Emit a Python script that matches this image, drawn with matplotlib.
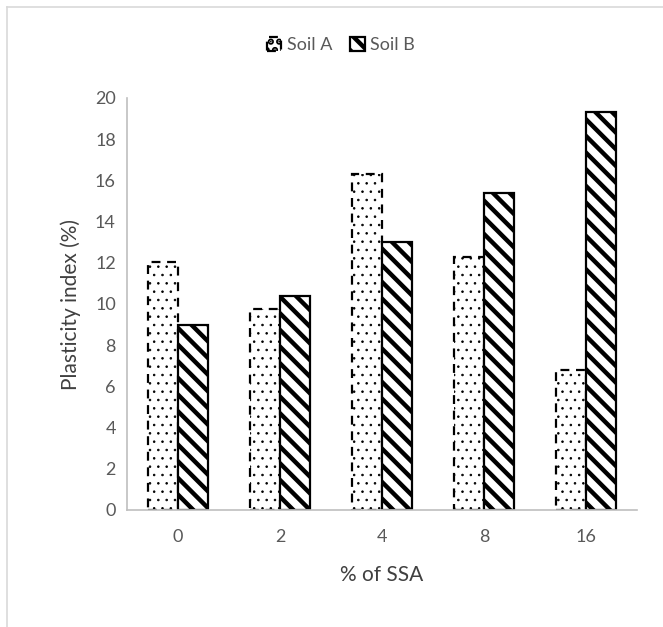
import matplotlib
matplotlib.use("Agg")
import matplotlib.pyplot as plt
from matplotlib.lines import Line2D
import numpy as np

# veriler
ssa = ["0", "2", "4", "8", "16"]
soil_a = [12.05, 9.75, 16.3, 12.3, 6.8]
soil_b = [9.0, 10.4, 13.0, 15.4, 19.3]
yticks = [0, 2, 4, 6, 8, 10, 12, 14, 16, 18, 20]

plt.rcParams["font.family"] = ["Lato", "DejaVu Sans"]

fig = plt.figure(figsize=(6.63, 6.27), dpi=100)
ax = fig.add_axes([127 / 663, 1 - 510 / 627, 510 / 663, 412 / 627])

x = np.arange(len(ssa))
w = 0.29

plt.rcParams["hatch.linewidth"] = 0.6
ax.bar(x - w / 2, soil_a, w, facecolor="white", edgecolor="black",
       linestyle=(0, (4, 3)), linewidth=1.6, hatch="..", label="Soil A")
plt.rcParams["hatch.linewidth"] = 3.2
ax.bar(x + w / 2, soil_b, w, facecolor="white", edgecolor="black",
       linewidth=1.6, hatch="\\\\", label="Soil B")

ax.set_xlim(-0.5, len(ssa) - 0.5)
ax.set_ylim(0, 20)
ax.set_yticks(yticks)
ax.set_xticks(x)
ax.set_xticklabels(ssa)

for s in ["top", "right"]:
    ax.spines[s].set_visible(False)
for s in ["left", "bottom"]:
    ax.spines[s].set_color("#bfbfbf")
    ax.spines[s].set_linewidth(1.2)
ax.tick_params(length=0, labelsize=13, colors="#595959", pad=8)
ax.tick_params(axis="x", pad=14)

ax.set_xlabel("% of SSA", fontsize=15, color="#404040", labelpad=14)
ax.set_ylabel("Plasticity index (%)", fontsize=15, color="#404040", labelpad=10)

leg = fig.legend(loc="center", bbox_to_anchor=(341 / 663, 1 - 45 / 627), ncol=2,
                 frameon=False, fontsize=13, handlelength=0.8, handleheight=0.8,
                 handletextpad=0.3, columnspacing=1.0)
for t in leg.get_texts():
    t.set_color("#595959")

# dis cerceve
fig.add_artist(Line2D([7 / 663, 1], [1 - 7 / 627, 1 - 7 / 627], color="#d9d9d9", lw=1.2))
fig.add_artist(Line2D([7 / 663, 7 / 663], [0, 1 - 7 / 627], color="#d9d9d9", lw=1.2))

fig.savefig("out.png", dpi=100)
